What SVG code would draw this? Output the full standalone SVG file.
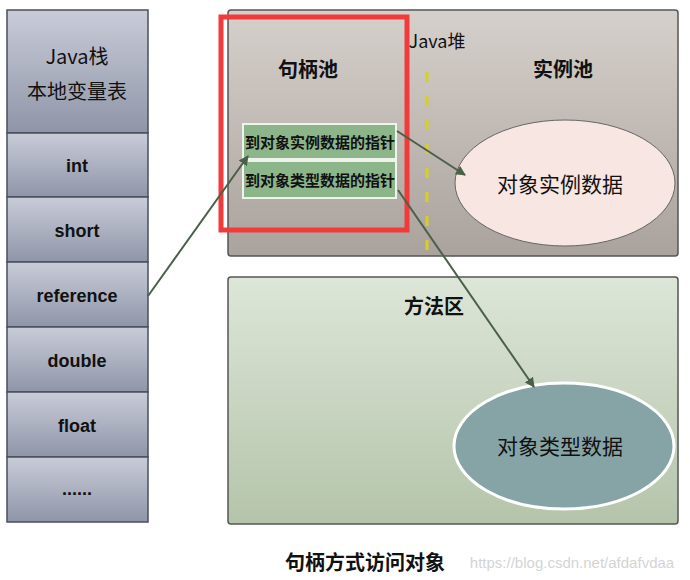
<svg xmlns="http://www.w3.org/2000/svg" width="690" height="580" viewBox="0 0 690 580">
<defs>
<linearGradient id="gs" x1="0" y1="0" x2="0" y2="1"><stop offset="0" stop-color="#c9ccd8"/><stop offset="1" stop-color="#8f95a8"/></linearGradient>
<linearGradient id="gh" x1="0" y1="0" x2="0" y2="1"><stop offset="0" stop-color="#d6d0cc"/><stop offset="1" stop-color="#aaa29c"/></linearGradient>
<linearGradient id="gm" x1="0" y1="0" x2="0" y2="1"><stop offset="0" stop-color="#dde6d8"/><stop offset="1" stop-color="#b4c4aa"/></linearGradient>
<marker id="ah" markerWidth="10" markerHeight="10" refX="9" refY="5" orient="auto" markerUnits="userSpaceOnUse"><path d="M0,0 L10,5 L0,10 z" fill="#4a6048"/></marker>
<style>
.cell{fill:url(#gs);stroke:#4a4f5e;stroke-width:1.5}
.t{font-family:"Liberation Sans","Noto Sans CJK SC",sans-serif;font-weight:bold;fill:#111;text-anchor:middle}
.c{font-family:"Noto Sans CJK SC",sans-serif;fill:#111;text-anchor:middle}
.ptr{fill:#8db58a;stroke:#eef4ec;stroke-width:2}
.conn{stroke:#4a6048;stroke-width:2;fill:none;marker-end:url(#ah)}
</style>
</defs>
<g id="stack">
<rect class="cell" x="7" y="10" width="141" height="123"/>
<text class="c" x="77" y="64" font-size="20">Java栈</text>
<text class="c" x="77" y="99" font-size="20">本地变量表</text>
<rect class="cell" x="7" y="133" width="141" height="64"/><text class="t" x="77" y="172" font-size="18">int</text>
<rect class="cell" x="7" y="197" width="141" height="65"/><text class="t" x="77" y="237" font-size="18">short</text>
<rect class="cell" x="7" y="262" width="141" height="65"/><text class="t" x="77" y="302" font-size="18">reference</text>
<rect class="cell" x="7" y="327" width="141" height="65"/><text class="t" x="77" y="367" font-size="18">double</text>
<rect class="cell" x="7" y="392" width="141" height="65"/><text class="t" x="77" y="432" font-size="18">float</text>
<rect class="cell" x="7" y="457" width="141" height="65"/><text class="t" x="77" y="495" font-size="18">......</text>
</g>
<g id="heap">
<rect x="228" y="10" width="450" height="246" rx="3" fill="url(#gh)" stroke="#555" stroke-width="1.5"/>
<text class="c" x="437" y="48" font-size="18">Java堆</text>
<text class="t" x="308" y="77" font-size="20">句柄池</text>
<text class="t" x="563" y="77" font-size="20">实例池</text>
<line x1="427" y1="72" x2="427" y2="250" stroke="#d8d020" stroke-width="3" stroke-dasharray="10,14"/>
</g>
<g id="method-area">
<rect x="228" y="277" width="450" height="247" rx="3" fill="url(#gm)" stroke="#555" stroke-width="1.5"/>
<text class="t" x="434" y="314" font-size="20">方法区</text>
</g>
<g id="ptr-instance"><rect class="ptr" x="243" y="124" width="153" height="35"/><text class="t" x="320" y="148" font-size="15">到对象实例数据的指针</text></g>
<g id="ptr-type"><rect class="ptr" x="243" y="161" width="153" height="37"/><text class="t" x="320" y="186" font-size="15">到对象类型数据的指针</text></g>
<g id="instance-data"><ellipse cx="565" cy="183" rx="110" ry="63" fill="#f7e6e2" stroke="#666" stroke-width="1"/><text class="c" x="560" y="192" font-size="21">对象实例数据</text></g>
<g id="type-data"><ellipse cx="564" cy="446" rx="110" ry="63" fill="#86a4a6" stroke="#fff" stroke-width="3"/><text class="c" x="560" y="454" font-size="21">对象类型数据</text></g>
<rect id="highlight" x="221" y="17" width="186" height="213" fill="none" stroke="#f23a3a" stroke-width="5"/>
<g id="connectors">
<path class="conn" d="M148,296 L248,156"/>
<path class="conn" d="M397,131 L465,175"/>
<path class="conn" d="M398,190 L534,387"/>
</g>
<text class="t" x="365" y="570" font-size="20">句柄方式访问对象</text>
<text x="572" y="568" font-family="Liberation Sans,sans-serif" font-size="15" fill="#d4d4d4" text-anchor="middle">https://blog.csdn.net/afdafvdaa</text>
</svg>
